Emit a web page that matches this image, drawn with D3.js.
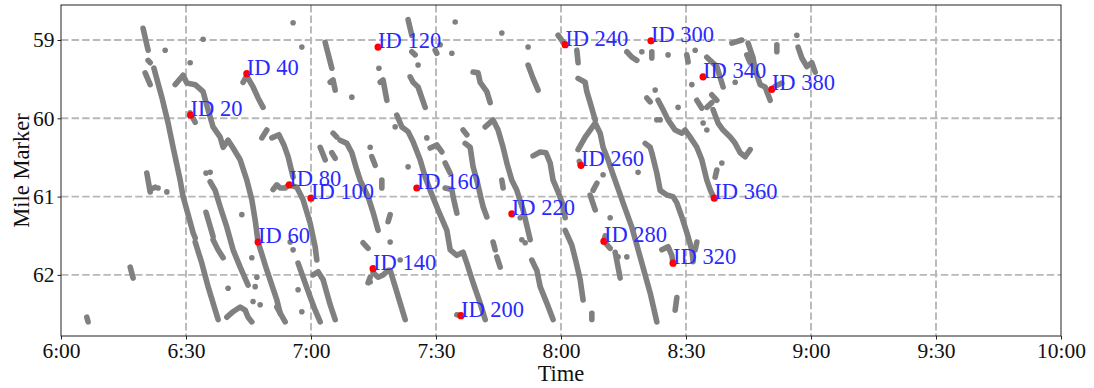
<!DOCTYPE html>
<html>
<head>
<meta charset="utf-8">
<script src="https://cdn.jsdelivr.net/npm/d3@7"></script>
<style>
  html, body { margin: 0; padding: 0; background: #fff; }
  svg { display: block; }
  text { font-family: "Liberation Serif", "Times New Roman", serif; }
</style>
</head>
<body>
<svg id="chart" width="1094" height="388"></svg>
<script>
// Time is given in minutes after 6:00, position in mile markers.
const timeTicks = [0, 30, 60, 90, 120, 150, 180, 210, 240];
const timeTickLabels = ["6:00", "6:30", "7:00", "7:30", "8:00", "8:30", "9:00", "9:30", "10:00"];
const mileTicks = [59, 60, 61, 62];
const mileTickLabels = ["59", "60", "61", "62"];

// Vehicle trajectory fragments: each is a list of [minute, mile] samples.
const trajectories = [
  [[19.7,58.85],[20.9,59.13]],
  [[20.9,59.26],[21.4,59.29]],
  [[22.3,59.36],[24.2,59.73],[25.7,60.06],[26.9,60.37],[28.6,60.79],[29.3,61.0],[30.2,61.17],[31.7,61.46],[32.2,61.53]],
  [[32.2,61.58],[33.8,61.85],[35.3,62.15],[37.7,62.57]],
  [[20.2,59.42],[21.4,59.57]],
  [[27.4,59.57],[29.3,59.45],[30.2,59.55],[32.2,59.57],[34.1,59.66],[35.3,59.89],[36.5,60.11],[38.2,60.24],[38.9,60.37],[40.1,60.28],[41.3,60.38],[43.0,60.53],[44.6,60.79],[45.8,61.04],[46.6,61.30],[47.3,61.58],[49.4,61.94],[51.8,62.32],[52.6,62.49]],
  [[51.8,62.41],[53.8,62.6]],
  [[31.0,59.93],[32.2,60.05]],
  [[43.7,59.54],[44.6,59.46],[46.1,59.60],[47.3,59.74],[48.5,59.86]],
  [[48.2,60.25],[49.4,60.15]],
  [[50.6,60.25],[52.3,60.21],[53.5,60.34],[54.5,60.49],[55.7,60.75]],
  [[50.9,60.91],[51.8,60.85],[52.6,60.89],[53.8,60.89],[54.7,60.85],[56.6,60.88],[58.1,61.04],[59.8,61.34],[61.0,61.64],[61.4,61.81]],
  [[35.8,60.81],[37.0,60.92],[38.2,61.13],[39.8,61.39],[41.3,61.68],[43.0,61.90],[44.9,62.13]],
  [[34.8,61.20],[36.5,61.51]],
  [[36.5,61.55],[37.7,61.68],[38.9,61.78]],
  [[39.8,62.54],[41.3,62.47],[43.0,62.41],[44.2,62.45],[44.9,62.54],[45.8,62.6]],
  [[20.6,60.70],[21.4,60.94]],
  [[21.4,60.91],[22.6,60.88]],
  [[16.6,61.90],[17.3,62.04]],
  [[6.2,62.54],[6.5,62.6]],
  [[56.9,61.85],[58.1,62.03],[59.8,62.28],[61.0,62.45],[62.2,62.6]],
  [[60.5,62.0],[61.7,61.96],[62.9,62.06],[63.8,62.23],[64.6,62.38],[65.8,62.57]],
  [[63.4,59.03],[65.0,59.36]],
  [[64.6,59.54],[65.3,59.51],[65.8,59.64]],
  [[62.2,60.37],[63.4,60.53]],
  [[65.3,60.19],[66.2,60.24]],
  [[65.0,60.44],[65.8,60.51]],
  [[67.0,60.28],[68.6,60.32],[69.8,60.44],[71.0,60.66],[71.8,60.79],[73.7,61.0],[74.9,61.2],[76.1,61.43]],
  [[76.6,59.54],[77.3,59.51],[78.2,59.77]],
  [[83.3,58.74],[84.2,58.94]],
  [[84.2,59.15],[85.0,59.19]],
  [[83.8,59.47],[84.5,59.54],[85.7,59.60],[87.4,59.86]],
  [[89.8,59.13],[90.2,59.17]],
  [[98.9,59.41],[100.1,59.42],[100.6,59.54],[102.2,59.66],[103.0,59.80]],
  [[112.1,59.32],[113.3,59.49],[114.5,59.64]],
  [[80.6,59.96],[81.8,60.11],[83.3,60.17],[84.5,60.30],[86.2,60.53],[87.4,60.75],[88.6,60.92],[90.5,61.17],[92.6,61.43],[93.4,61.68],[95.0,61.75],[96.5,61.71],[97.4,61.85],[98.9,62.10],[100.6,62.36],[101.8,62.57]],
  [[88.6,60.38],[90.2,60.34],[91.4,60.43]],
  [[92.2,60.57],[93.4,60.70]],
  [[92.2,60.89],[93.8,60.91],[94.1,61.0],[95.0,61.21]],
  [[96.5,60.15],[97.4,60.21]],
  [[97.0,60.32],[98.2,60.37],[98.9,60.62],[99.8,60.79],[101.3,61.13],[102.2,61.26]],
  [[101.8,60.11],[103.7,60.02],[104.9,60.15],[106.1,60.37],[107.0,60.57],[108.2,60.79],[109.4,60.92],[110.9,61.17],[112.6,61.55]],
  [[113.3,60.48],[115.0,60.43],[116.4,60.44],[117.4,60.57],[118.1,60.79],[119.3,60.94],[120.5,61.11],[121.0,61.27]],
  [[121.0,61.43],[122.6,61.62],[123.6,61.83],[124.6,62.06],[125.3,62.32]],
  [[123.8,59.13],[124.1,59.29]],
  [[124.1,59.49],[125.8,59.54],[126.2,59.66],[127.0,59.80],[127.7,59.93],[128.2,60.02]],
  [[124.1,60.40],[125.8,60.24],[127.0,60.15],[128.2,60.06],[129.4,60.19],[130.1,60.37],[131.3,60.53],[132.5,60.72],[134.9,61.08],[137.0,61.39],[139.0,61.77],[141.4,62.23],[143.0,62.6]],
  [[124.4,60.55],[124.8,60.60]],
  [[130.6,61.50],[130.3,61.57],[131.8,61.66]],
  [[133.0,61.71],[134.2,62.04]],
  [[128.6,60.83],[127.7,60.92]],
  [[127.0,60.98],[128.2,61.17]],
  [[127.4,62.49],[127.4,62.57]],
  [[140.2,60.32],[141.4,60.37],[141.8,60.44],[143.0,60.70],[143.8,60.92],[145.4,60.98],[146.9,61.0],[147.8,61.08],[149.0,61.26],[150.2,61.46],[151.4,61.68],[151.7,61.83]],
  [[144.2,61.68],[145.7,61.64],[146.6,61.75],[146.9,61.85]],
  [[152.6,61.58],[152.2,61.68]],
  [[147.8,62.29],[147.4,62.45]],
  [[143.3,59.77],[144.5,59.89],[145.7,60.02],[147.4,60.15],[149.0,60.19],[149.8,60.15],[151.0,60.24],[152.6,60.37],[153.8,60.53],[155.0,60.79],[155.8,60.91],[156.7,61.02]],
  [[140.6,59.74],[141.4,59.79]],
  [[157.4,60.66],[157.0,60.75]],
  [[156.5,59.89],[157.7,60.06],[158.9,60.15],[160.6,60.24],[161.8,60.32],[163.0,60.44],[164.2,60.49],[165.4,60.40]],
  [[152.6,59.77],[153.8,59.87]],
  [[156.2,59.70],[157.4,59.77]],
  [[155.0,59.86],[156.2,59.80]],
  [[155.0,59.22],[157.4,59.34],[158.9,59.60]],
  [[161.0,59.04],[163.4,59.0]],
  [[164.9,59.04],[166.1,59.23],[166.6,59.38],[167.8,59.57],[169.0,59.60],[170.2,59.77]],
  [[164.6,59.19],[165.4,59.29]],
  [[170.6,59.63],[171.4,59.59],[173.0,59.55]],
  [[171.8,59.06],[171.8,59.15]],
  [[176.9,59.09],[177.8,59.23],[179.0,59.34],[180.2,59.29],[181.0,59.41]],
  [[135.8,59.15],[137.0,59.22],[138.2,59.26]],
  [[141.8,59.15],[141.8,59.23]],
  [[150.2,59.19],[150.5,59.28]],
  [[119.3,58.94],[121.0,59.06]],
  [[103.7,61.58],[104.2,61.68]],
  [[104.6,61.77],[105.4,61.90]],
  [[105.8,60.79],[106.1,60.89]],
  [[113.0,61.81],[113.8,61.90],[114.2,61.94],[115.0,62.15],[116.6,62.36],[118.1,62.57]],
  [[72.5,61.59],[73.7,61.66]],
  [[74.9,61.97],[76.1,62.03],[77.3,62.0],[78.5,61.94],[79.0,61.94],[80.2,62.15],[81.4,62.36],[82.6,62.57]],
  [[77.0,60.79],[77.0,60.89]],
  [[79.0,61.23],[78.5,61.32]],
  [[74.6,60.49],[75.4,60.60]],
  [[74.2,62.03],[73.7,62.10]],
  [[95.0,62.51],[96.0,62.52]]
];

// Isolated position samples.
const strayPoints = [
  [25.0,59.13],[34.1,58.99],[55.7,58.78],[57.8,59.09],[31.0,59.29],[25.4,60.94],[23.3,60.89],
  [34.8,60.70],[35.8,60.69],[43.4,61.23],[45.8,61.78],[47.0,62.03],[40.1,62.17],[46.6,62.15],
  [55.0,61.58],[55.7,61.68],[56.9,62.19],[57.8,62.47],[46.1,62.34],[47.8,62.38],[69.8,59.73],
  [76.3,59.36],[85.7,59.32],[91.0,59.06],[93.8,59.17],[94.6,58.77],[105.8,58.91],[112.1,59.09],
  [74.2,60.37],[80.2,60.11],[87.8,60.25],[83.3,60.62],[79.0,61.58],[81.4,61.81],[74.2,62.09],
  [110.2,61.27],[110.6,61.55],[111.4,61.59],[130.1,60.72],[138.5,60.69],[131.8,61.27],
  [133.7,61.77],[135.8,61.77],[142.6,59.64],[143.0,60.02],[143.8,60.02],[148.1,59.86],
  [151.4,59.57],[152.2,59.13],[145.7,59.19],[139.4,59.15],[161.8,59.54],[158.6,60.57],
  [154.1,60.06],[155.0,60.15],[176.6,58.94]
];

// Highlighted vehicles.
const idLabels = ["ID 20", "ID 40", "ID 60", "ID 80", "ID 100", "ID 120", "ID 140", "ID 160", "ID 200",
                  "ID 220", "ID 240", "ID 260", "ID 280", "ID 300", "ID 320", "ID 340", "ID 360", "ID 380"];
const idTimes = [31.1, 44.6, 47.3, 54.8, 60.0, 76.1, 74.9, 85.4, 96.0,
                 108.2, 121.0, 124.8, 130.3, 141.6, 146.9, 154.1, 156.8, 170.6];
const idMiles = [59.96, 59.43, 61.58, 60.85, 61.02, 59.09, 61.92, 60.89, 62.52,
                 61.22, 59.06, 60.60, 61.57, 59.01, 61.85, 59.47, 61.02, 59.63];

const margin = { left: 61, right: 33, top: 5, bottom: 52 };
const width = 1094, height = 388;
const svg = d3.select("#chart");

const x = d3.scaleLinear().domain([0, 240]).range([margin.left, width - margin.right]);
const y = d3.scaleLinear().domain([58.553, 62.78]).range([margin.top, height - margin.bottom]);

const plot = svg.append("g");

// dashed grid
const gridStyle = g => g.attr("stroke", "#b8b8b8").attr("stroke-width", 1.9).attr("stroke-dasharray", "7.4,3.2");
plot.append("g").selectAll("line").data(timeTicks.slice(1, -1)).join("line")
  .attr("x1", d => x(d)).attr("x2", d => x(d))
  .attr("y1", y.range()[0]).attr("y2", y.range()[1])
  .call(gridStyle);
plot.append("g").selectAll("line").data(mileTicks).join("line")
  .attr("x1", x.range()[0]).attr("x2", x.range()[1])
  .attr("y1", d => y(d)).attr("y2", d => y(d))
  .call(gridStyle);

// trajectories
const line = d3.line().x(d => x(d[0])).y(d => y(d[1]));
plot.append("g").selectAll("path").data(trajectories).join("path")
  .attr("d", line)
  .attr("fill", "none")
  .attr("stroke", "#808080")
  .attr("stroke-width", 5.6)
  .attr("stroke-linecap", "round")
  .attr("stroke-linejoin", "round");

plot.append("g").selectAll("circle").data(strayPoints).join("circle")
  .attr("cx", d => x(d[0])).attr("cy", d => y(d[1])).attr("r", 2.8)
  .attr("fill", "#808080");

// highlighted vehicles
const ids = d3.range(idLabels.length);
plot.append("g").selectAll("circle").data(ids).join("circle")
  .attr("cx", i => x(idTimes[i])).attr("cy", i => y(idMiles[i])).attr("r", 3.6)
  .attr("fill", "#ff0000");
plot.append("g").selectAll("text").data(ids).join("text")
  .attr("x", i => x(idTimes[i])).attr("y", i => y(idMiles[i]) + 1)
  .attr("fill", "#2a2aff")
  .attr("font-size", 22.5)
  .text(i => idLabels[i]);

// frame
svg.append("rect")
  .attr("x", x.range()[0]).attr("y", y.range()[0])
  .attr("width", x.range()[1] - x.range()[0]).attr("height", y.range()[1] - y.range()[0])
  .attr("fill", "none").attr("stroke", "#222").attr("stroke-width", 1);

// axes
const xAxis = d3.axisBottom(x).tickValues(timeTicks)
  .tickFormat((d, i) => timeTickLabels[i]).tickSize(3.5).tickPadding(3);
const yAxis = d3.axisLeft(y).tickValues(mileTicks)
  .tickFormat((d, i) => mileTickLabels[i]).tickSize(3.5).tickPadding(3);

const gx = svg.append("g").attr("transform", `translate(0,${y.range()[1]})`).call(xAxis);
const gy = svg.append("g").attr("transform", `translate(${x.range()[0]},0)`).call(yAxis);
[gx, gy].forEach(g => {
  g.select(".domain").remove();
  g.selectAll(".tick line").attr("stroke", "#222");
  g.selectAll(".tick text").attr("font-size", 21.5).attr("fill", "#111")
    .attr("font-family", "'Liberation Serif', serif");
});

svg.append("text")
  .attr("x", (x.range()[0] + x.range()[1]) / 2).attr("y", 381)
  .attr("text-anchor", "middle").attr("font-size", 22.5).attr("fill", "#111")
  .text("Time");
svg.append("text")
  .attr("transform", `translate(29,${(y.range()[0] + y.range()[1]) / 2}) rotate(-90)`)
  .attr("text-anchor", "middle").attr("font-size", 22.5).attr("fill", "#111")
  .text("Mile Marker");
</script>
</body>
</html>
